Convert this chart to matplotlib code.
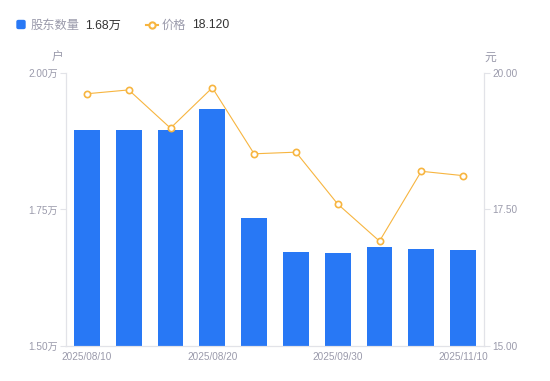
import numpy as np
import matplotlib.pyplot as plt
from matplotlib.patches import FancyBboxPatch

plt.rcParams['font.family'] = ['Liberation Sans', 'Noto Sans CJK SC', 'DejaVu Sans']

# 股东户数 (万户) 与 股价 (元)
holders = [1.896, 1.896, 1.896, 1.934, 1.734, 1.672, 1.670, 1.681, 1.678, 1.676]
price = [19.62, 19.69, 18.99, 19.73, 18.52, 18.55, 17.60, 16.92, 18.20, 18.12]
tick_pos = [0, 3, 6, 9]
tick_labels = ["2025/08/10", "2025/08/20", "2025/09/30", "2025/11/10"]

blue = "#2878f5"
orange = "#f7b540"
grey = "#9a9aab"
spine = "#e2e3e8"

fig = plt.figure(figsize=(5.5, 3.81), dpi=100)
ax = fig.add_axes([0.12, 0.0919, 0.76, 0.7165])
x = np.arange(len(holders))
ax.bar(x, holders, width=0.62, color=blue, zorder=2)
ax.set_xlim(-0.5, len(holders) - 0.5)
ax.set_ylim(1.5, 2.0)
ax.set_yticks([1.5, 1.75, 2.0])
ax.set_yticklabels(["1.50万", "1.75万", "2.00万"])
ax.set_xticks(tick_pos)
ax.set_xticklabels(tick_labels)
ax.tick_params(axis='x', length=0, labelsize=7.2, colors=grey, pad=4)
ax.tick_params(axis='y', length=4, width=0.8, color=spine, labelsize=7.2, labelcolor=grey, pad=2)
ax.spines['top'].set_visible(False)
for s in ['left', 'bottom', 'right']:
    ax.spines[s].set_color(spine)
    ax.spines[s].set_linewidth(0.8)

ax2 = ax.twinx()
ax2.plot(x, price, color=orange, lw=0.8, marker='o', ms=4.5, mfc='white',
         mec=orange, mew=1.2, zorder=3)
ax2.set_ylim(15, 20)
ax2.set_yticks([15, 17.5, 20])
ax2.set_yticklabels(["15.00", "17.50", "20.00"])
ax2.tick_params(axis='y', length=4, width=0.8, color=spine, labelsize=7.2, labelcolor=grey, pad=2)
ax2.spines['top'].set_visible(False)
for s in ['left', 'bottom', 'right']:
    ax2.spines[s].set_color(spine)
    ax2.spines[s].set_linewidth(0.8)

# unit labels
fig.text(58 / 550, 1 - 58 / 381, "户", color=grey, fontsize=8.5, ha='center', va='center')
fig.text(490 / 550, 1 - 58 / 381, "元", color=grey, fontsize=8.5, ha='center', va='center')

# legend
ly = 1 - 25.5 / 381
fig.patches.append(FancyBboxPatch((17 / 550, 1 - 28.5 / 381), 8 / 550, 8 / 381,
                                  boxstyle="round,pad=0,rounding_size=0.003",
                                  transform=fig.transFigure, color=blue, figure=fig))
fig.text(31 / 550, ly, "股东数量", color=grey, fontsize=8.8, va='center')
fig.text(85 / 550, ly, "1.68万", color="#333333", fontsize=8.8, va='center')
fig.lines.append(plt.Line2D([146 / 550, 158 / 550], [1 - 24.5 / 381] * 2, transform=fig.transFigure,
                            color=orange, lw=1.5))
fig.lines.append(plt.Line2D([152 / 550], [1 - 24.5 / 381], transform=fig.transFigure, color=orange,
                            marker='o', ms=4.5, mfc='white', mec=orange, mew=1.5))
fig.text(162 / 550, ly, "价格", color=grey, fontsize=8.8, va='center')
fig.text(192 / 550, ly, "18.120", color="#333333", fontsize=8.8, va='center')

plt.savefig("out.png", dpi=100)
